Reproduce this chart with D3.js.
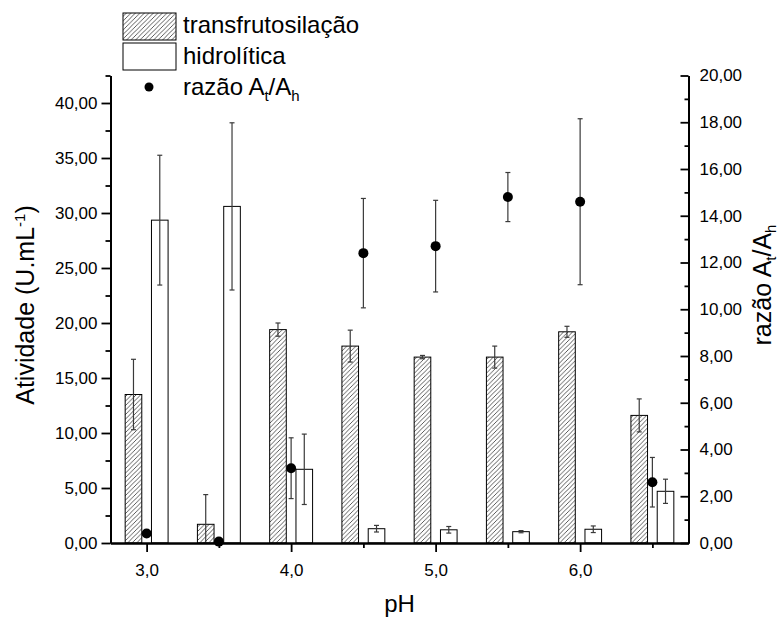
<!DOCTYPE html>
<meta charset="utf-8">
<script src="https://d3js.org/d3.v7.min.js"></script>
<style>
  body { margin: 0; background: #fff; }
  text { font-family: "Liberation Sans", Arial, sans-serif; fill: #000; }
</style>
<div id="my_dataviz"></div>
<script>
// data
var ph = [3.0, 3.5, 4.0, 4.5, 5.0, 5.5, 6.0, 6.5];
var transf = [13.5, 1.7, 19.4, 17.9, 16.9, 16.9, 19.2, 11.6];
var transfErr = [3.2, 2.7, 0.6, 1.45, 0.15, 1.0, 0.5, 1.5];
var hidro = [29.35, 30.6, 6.7, 1.3, 1.2, 1.03, 1.25, 4.7];
var hidroErr = [5.9, 7.6, 3.2, 0.3, 0.3, 0.1, 0.3, 1.1];
var ratio = [0.41, 0.06, 3.2, 12.4, 12.7, 14.8, 14.6, 2.6];
var ratioErr = [0.1, 0.05, 1.3, 2.34, 1.96, 1.05, 3.55, 1.06];

var leftTicks = [0, 5, 10, 15, 20, 25, 30, 35, 40];
var rightTicks = [0, 2, 4, 6, 8, 10, 12, 14, 16, 18, 20];
var xTicks = [3, 4, 5, 6];

var fmt2 = function(d) { return d3.format(".2f")(d).replace(".", ","); };
var fmt1 = function(d) { return d3.format(".1f")(d).replace(".", ","); };

var width = 783, height = 617;
var svg = d3.select("#my_dataviz")
  .append("svg")
  .attr("width", width)
  .attr("height", height);

// hatch for the transfrutosilação bars
svg.append("defs").append("pattern")
  .attr("id", "hatch")
  .attr("patternUnits", "userSpaceOnUse")
  .attr("width", 4.5)
  .attr("height", 4.5)
  .append("path")
  .attr("d", "M-1,1 l2,-2 M0,4.5 l4.5,-4.5 M3.5,5.5 l2,-2")
  .attr("stroke", "#333")
  .attr("stroke-width", 0.8);

// scales
var x = d3.scaleLinear().domain([2.75, 6.75]).range([110.5, 688.5]);
var yL = d3.scaleLinear().domain([0, 42.5]).range([543, 75.5]);
var yR = d3.scaleLinear().domain([0, 20]).range([543, 75.5]);

var barOff = 0.091, barW = 0.115;
var bw = x(barW) - x(0);

var rows = ph.map(function(p, i) {
  return {ph: p, t: transf[i], te: transfErr[i], h: hidro[i], he: hidroErr[i], r: ratio[i], re: ratioErr[i]};
});

// bars
svg.append("g").selectAll("rect")
  .data(rows).enter().append("rect")
  .attr("x", d => x(d.ph - barOff) - bw / 2)
  .attr("y", d => yL(d.t))
  .attr("width", bw)
  .attr("height", d => yL(0) - yL(d.t))
  .attr("fill", "url(#hatch)")
  .attr("stroke", "#000")
  .attr("stroke-width", 1);

svg.append("g").selectAll("rect")
  .data(rows).enter().append("rect")
  .attr("x", d => x(d.ph + barOff) - bw / 2)
  .attr("y", d => yL(d.h))
  .attr("width", bw)
  .attr("height", d => yL(0) - yL(d.h))
  .attr("fill", "#fff")
  .attr("stroke", "#000")
  .attr("stroke-width", 1);

// error bars
function errBars(cx, lo, hi) {
  var g = svg.append("g")
    .attr("stroke", "#3a3a3a")
    .attr("stroke-width", 1.2);
  rows.forEach(function(d) {
    var xc = cx(d), top = hi(d), bot = lo(d);
    g.append("line").attr("x1", xc).attr("x2", xc).attr("y1", top).attr("y2", bot);
    g.append("line").attr("x1", xc - 2.5).attr("x2", xc + 2.5).attr("y1", top).attr("y2", top);
    g.append("line").attr("x1", xc - 2.5).attr("x2", xc + 2.5).attr("y1", bot).attr("y2", bot);
  });
}
errBars(d => x(d.ph - barOff), d => yL(Math.max(0, d.t - d.te)), d => yL(d.t + d.te));
errBars(d => x(d.ph + barOff), d => yL(Math.max(0, d.h - d.he)), d => yL(d.h + d.he));
errBars(d => x(d.ph), d => yR(Math.max(0, d.r - d.re)), d => yR(d.r + d.re));

// ratio points
svg.append("g").selectAll("circle")
  .data(rows).enter().append("circle")
  .attr("cx", d => x(d.ph))
  .attr("cy", d => yR(d.r))
  .attr("r", 5)
  .attr("fill", "#000");

// axes
function styleAxis(g) {
  g.selectAll("path").attr("stroke", "#000").attr("stroke-width", 2);
  g.selectAll("line").attr("stroke", "#000").attr("stroke-width", 1.8);
  g.selectAll("text").style("font-size", "17px").attr("fill", "#000");
}

var minorL = d3.range(2.5, 43, 5);
svg.append("g")
  .attr("transform", "translate(" + x.range()[0] + ",0)")
  .call(d3.axisLeft(yL).tickValues(minorL).tickSize(5).tickSizeOuter(0).tickFormat(""))
  .call(styleAxis);
svg.append("g")
  .attr("transform", "translate(" + x.range()[0] + ",0)")
  .call(d3.axisLeft(yL).tickValues(leftTicks).tickSize(9).tickPadding(4).tickSizeOuter(0).tickFormat(fmt2))
  .call(styleAxis);

var minorR = d3.range(1, 20, 2);
svg.append("g")
  .attr("transform", "translate(" + x.range()[1] + ",0)")
  .call(d3.axisRight(yR).tickValues(minorR).tickSize(-4).tickSizeOuter(0).tickFormat(""))
  .call(styleAxis);
svg.append("g")
  .attr("transform", "translate(" + x.range()[1] + ",0)")
  .call(d3.axisRight(yR).tickValues(rightTicks).tickSize(-8).tickPadding(11).tickSizeOuter(0).tickFormat(fmt2))
  .call(styleAxis);

svg.append("g")
  .attr("transform", "translate(0," + yL(0) + ")")
  .call(d3.axisBottom(x).tickValues([3.5, 4.5, 5.5, 6.5]).tickSize(5).tickSizeOuter(0).tickFormat(""))
  .call(styleAxis);
svg.append("g")
  .attr("transform", "translate(0," + yL(0) + ")")
  .call(d3.axisBottom(x).tickValues(xTicks).tickSize(9).tickPadding(12).tickSizeOuter(0).tickFormat(fmt1))
  .call(styleAxis);

// axis titles
svg.append("text")
  .attr("x", x(4.75))
  .attr("y", 612)
  .attr("text-anchor", "middle")
  .style("font-size", "24px")
  .text("pH");

var lt = svg.append("text")
  .attr("transform", "translate(34,305) rotate(-90)")
  .attr("text-anchor", "middle")
  .style("font-size", "25px");
lt.append("tspan").text("Atividade (U.mL");
lt.append("tspan").attr("dy", -9).style("font-size", "15px").text("-1");
lt.append("tspan").attr("dy", 9).text(")");

var rt = svg.append("text")
  .attr("transform", "translate(771,285) rotate(-90)")
  .attr("text-anchor", "middle")
  .style("font-size", "25px");
rt.append("tspan").text("razão A");
rt.append("tspan").attr("dy", 5).style("font-size", "15px").text("t");
rt.append("tspan").attr("dy", -5).text("/A");
rt.append("tspan").attr("dy", 5).style("font-size", "15px").text("h");

// legend
svg.append("rect").attr("x", 123).attr("y", 13).attr("width", 53).attr("height", 27)
  .attr("fill", "url(#hatch)").attr("stroke", "#000").attr("stroke-width", 1);
svg.append("text").attr("x", 183).attr("y", 33).style("font-size", "24px").text("transfrutosilação");

svg.append("rect").attr("x", 123).attr("y", 43).attr("width", 53).attr("height", 27)
  .attr("fill", "#fff").attr("stroke", "#000").attr("stroke-width", 1);
svg.append("text").attr("x", 183).attr("y", 64).style("font-size", "24px").text("hidrolítica");

svg.append("circle").attr("cx", 149).attr("cy", 87).attr("r", 4.5).attr("fill", "#000");
var lg = svg.append("text").attr("x", 183).attr("y", 95).style("font-size", "24px");
lg.append("tspan").text("razão A");
lg.append("tspan").attr("dy", 6).style("font-size", "15px").text("t");
lg.append("tspan").attr("dy", -6).text("/A");
lg.append("tspan").attr("dy", 6).style("font-size", "15px").text("h");
</script>
